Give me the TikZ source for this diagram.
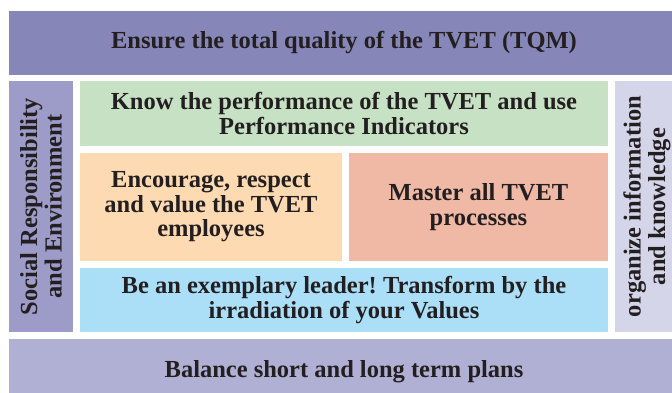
\documentclass[tikz,border=0pt]{standalone}
\usepackage{fontspec}
\setmainfont{Liberation Serif}
\frenchspacing
\usetikzlibrary{positioning}

\definecolor{tqmblue}{HTML}{8786B9}
\definecolor{socialblue}{HTML}{9D9BC8}
\definecolor{knowgreen}{HTML}{C7E1C4}
\definecolor{encorange}{HTML}{FDDAB1}
\definecolor{mastersalmon}{HTML}{F0B9A5}
\definecolor{leaderblue}{HTML}{AADFF7}
\definecolor{orglilac}{HTML}{D5D5E9}
\definecolor{balancelilac}{HTML}{B0AFD4}
\definecolor{inkdark}{HTML}{231F20}

\tikzset{
  box/.style={inner sep=0pt, outer sep=0pt, align=center, text=inkdark,
    font=\bfseries\fontsize{24.5}{24.5}\selectfont},
  bar/.style={box, minimum width=670pt, minimum height=64pt},
  side/.style={box, minimum width=64pt, minimum height=251pt},
}

\begin{document}
\begin{tikzpicture}
    \useasboundingbox (0,0) rectangle (672pt,-392pt);
    \clip (0,0) rectangle (672pt,-392pt);
    \node (tqm) [bar, fill=tqmblue, anchor=north west] at (9pt,-11pt) {Ensure the total quality of the TVET (TQM)};
    % left and right columns
    \node (social) [side, fill=socialblue, below=6pt of tqm.south west, anchor=north west] {};
    \node (socialtxt) [box, rotate=90] at (social) {Social Responsibility\\and Environment};
    \node (know) [box, fill=knowgreen, minimum width=528pt, minimum height=65pt, right=7pt of social.north east, anchor=north west] {Know the performance of the TVET and use\\Performance Indicators};
    \node (organize) [side, fill=orglilac, right=7pt of know.north east, anchor=north west] {};
    \node (organizetxt) [box, rotate=90] at (organize) {organize information\\and knowledge};
    % middle row
    \node (encourage) [box, fill=encorange, minimum width=262pt, minimum height=108pt, below=7pt of know.south west, anchor=north west] {Encourage, respect\\and value the TVET\\employees};
    \node (master) [box, fill=mastersalmon, minimum width=259pt, minimum height=108pt, right=7pt of encourage.north east, anchor=north west] {Master all TVET\\processes};
    \node (leader) [box, fill=leaderblue, minimum width=528pt, minimum height=64pt, below=7pt of encourage.south west, anchor=north west] {Be an exemplary leader! Transform by the\\irradiation of your Values};
    \node (balance) [bar, fill=balancelilac, minimum height=65pt, below=7pt of social.south west, anchor=north west] {Balance short and long term plans};
\end{tikzpicture}
\end{document}
